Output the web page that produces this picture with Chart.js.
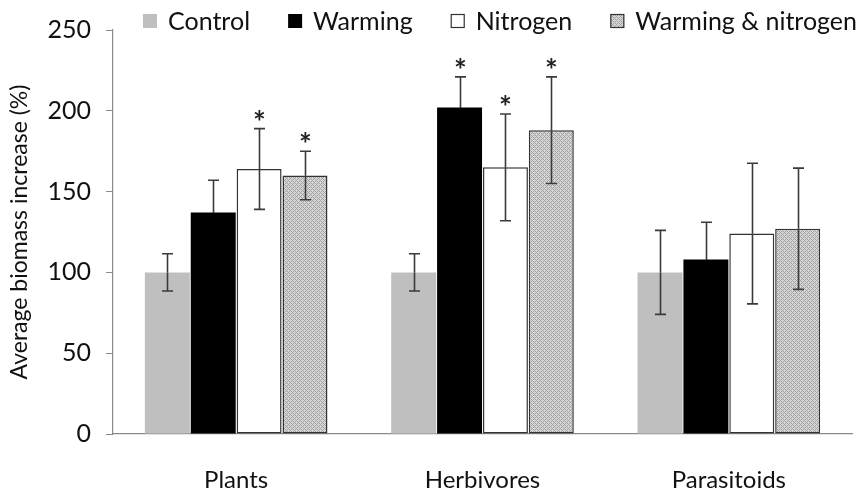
<!DOCTYPE html>
<html>
<head>
<meta charset="utf-8">
<script src="https://cdn.jsdelivr.net/npm/chart.js@4.4.0/dist/chart.umd.min.js"></script>
<style>
  html, body { margin: 0; padding: 0; background: #fff; }
  #wrap { width: 859px; height: 491px; }
</style>
</head>
<body>
<div id="wrap"><canvas id="chart" width="859" height="491"></canvas></div>
<script>
// data
const categories = ['Plants', 'Herbivores', 'Parasitoids'];
const seriesNames = ['Control', 'Warming', 'Nitrogen', 'Warming & nitrogen'];

const control = [100, 100, 100];
const controlErr = [11.5, 11.5, 26];
const warming = [137, 202, 108];
const warmingErr = [20, 19, 23];
const nitrogen = [164, 165, 124];
const nitrogenErr = [25, 33, 43.5];
const both = [160, 188, 127];
const bothErr = [15, 33, 37.5];

// asterisks (significant vs control)
const controlSig = [false, false, false];
const warmingSig = [false, true, false];
const nitrogenSig = [true, true, false];
const bothSig = [true, true, false];

const yTicks = [0, 50, 100, 150, 200, 250];

const FONT = 'Lato, Carlito, Calibri, sans-serif';

// fine grey cross-hatch for the combined treatment
function makeHatch() {
    const c = document.createElement('canvas');
    c.width = 4; c.height = 4;
    const g = c.getContext('2d');
    g.fillStyle = '#d6d6d6';
    g.fillRect(0, 0, 4, 4);
    g.fillStyle = '#a2a2a2';
    for (let x = 0; x < 4; x++) {
        for (let y = 0; y < 4; y++) {
            if ((x + y) % 4 === 0 || (x - y + 4) % 4 === 0) g.fillRect(x, y, 1, 1);
        }
    }
    return document.getElementById('chart').getContext('2d').createPattern(c, 'repeat');
}
const hatch = makeHatch();

const styles = [
    { fill: '#bfbfbf', border: '#bfbfbf', bw: 0, lowErr: '#3a3a3a' },
    { fill: '#000000', border: '#000000', bw: 0, lowErr: '#000000' },
    { fill: '#ffffff', border: '#333333', bw: 1.5, lowErr: '#3a3a3a' },
    { fill: hatch, border: '#333333', bw: 1.5, lowErr: '#3a3a3a' }
];
const values = [control, warming, nitrogen, both];
const errors = [controlErr, warmingErr, nitrogenErr, bothErr];
const sigs = [controlSig, warmingSig, nitrogenSig, bothSig];

const datasets = values.map((v, i) => ({
    label: seriesNames[i],
    data: v,
    err: errors[i],
    sig: sigs[i],
    lowErr: styles[i].lowErr,
    backgroundColor: styles[i].fill,
    borderColor: styles[i].border,
    borderWidth: styles[i].bw,
    borderSkipped: false,
    categoryPercentage: 0.745,
    barPercentage: 0.98
}));

// error bars + asterisks
const errorBars = {
    id: 'errorBars',
    afterDatasetsDraw(chart) {
        const ctx = chart.ctx;
        const y = chart.scales.y;
        ctx.save();
        ctx.lineWidth = 1.6;
        chart.data.datasets.forEach((ds, di) => {
            const meta = chart.getDatasetMeta(di);
            meta.data.forEach((bar, j) => {
                const v = ds.data[j], e = ds.err[j];
                const top = y.getPixelForValue(v + e);
                const mid = y.getPixelForValue(v);
                const low = y.getPixelForValue(v - e);
                const x = Math.round(bar.x) + 0.5;
                // upper half
                ctx.strokeStyle = '#3a3a3a';
                ctx.beginPath();
                ctx.moveTo(x, top); ctx.lineTo(x, mid);
                ctx.moveTo(x - 5.5, top); ctx.lineTo(x + 5.5, top);
                ctx.stroke();
                // lower half (lost inside the black bars)
                ctx.strokeStyle = ds.lowErr;
                ctx.beginPath();
                ctx.moveTo(x, mid); ctx.lineTo(x, low);
                ctx.moveTo(x - 5.5, low); ctx.lineTo(x + 5.5, low);
                ctx.stroke();
                if (ds.sig[j]) {
                    ctx.fillStyle = '#222';
                    ctx.font = 'bold 30px ' + FONT;
                    ctx.textAlign = 'center';
                    ctx.textBaseline = 'alphabetic';
                    ctx.fillText('*', x, top + 4);
                }
            });
        });
        ctx.restore();
    }
};

// legend drawn along the top, over the plot area, spread from x0 to x1
const topLegend = {
    id: 'topLegend',
    afterDraw(chart) {
        const ctx = chart.ctx;
        const x0 = 143, x1 = 857, yc = 21, textOff = 25;
        ctx.save();
        ctx.font = '25px ' + FONT;
        ctx.textBaseline = 'middle';
        ctx.textAlign = 'left';
        const dsets = chart.data.datasets;
        let used = 0;
        dsets.forEach(ds => { used += textOff + ctx.measureText(ds.label).width; });
        const gap = (x1 - x0 - used) / (dsets.length - 1);
        let x = x0;
        dsets.forEach((ds) => {
            ctx.fillStyle = ds.backgroundColor;
            ctx.fillRect(x, yc - 7, 14, 14);
            if (ds.borderWidth) {
                ctx.strokeStyle = ds.borderColor;
                ctx.lineWidth = 1.2;
                ctx.strokeRect(x + 0.5, yc - 6.5, 13, 13);
            }
            ctx.fillStyle = '#111';
            ctx.fillText(ds.label, x + textOff, yc + 1);
            x += textOff + ctx.measureText(ds.label).width + gap;
        });
        ctx.restore();
    }
};

new Chart(document.getElementById('chart'), {
    type: 'bar',
    data: { labels: categories, datasets: datasets },
    options: {
        responsive: false,
        animation: false,
        layout: { padding: { left: 6, right: 7, top: 20, bottom: 0 } },
        plugins: {
            legend: { display: false },
            tooltip: { enabled: false }
        },
        scales: {
            x: {
                grid: { display: false, drawTicks: false },
                border: { display: true, color: '#8a8a8a', width: 1.2 },
                ticks: { color: '#111', font: { family: FONT, size: 24 }, padding: 32 },
                afterFit(s) { s.height = 57; }
            },
            y: {
                min: 0,
                max: 250,
                afterBuildTicks(s) { s.ticks = yTicks.map(v => ({ value: v })); },
                grid: { drawOnChartArea: false, color: '#8a8a8a', tickLength: 7 },
                border: { display: true, color: '#8a8a8a', width: 1.2 },
                ticks: { color: '#111', font: { family: FONT, size: 25 }, padding: 15 },
                title: {
                    display: true,
                    text: 'Average biomass increase (%)',
                    color: '#111',
                    font: { family: FONT, size: 23 },
                    padding: { top: 0, bottom: 4 }
                },
                afterFit(s) { s.width = 107; }
            }
        }
    },
    plugins: [errorBars, topLegend]
});
</script>
</body>
</html>
